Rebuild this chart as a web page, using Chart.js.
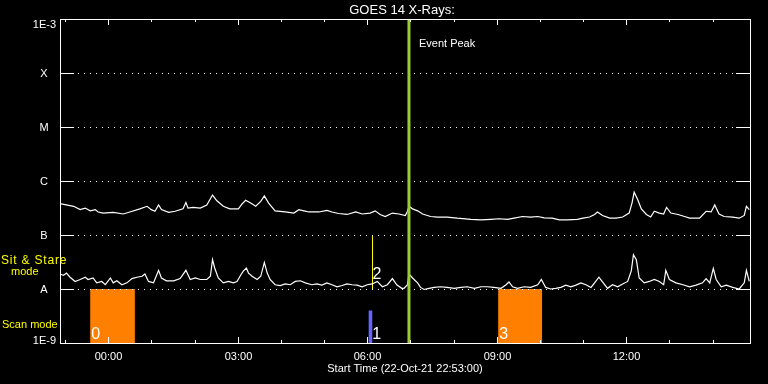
<!DOCTYPE html>
<html>
<head>
<meta charset="utf-8">
<script src="https://cdn.jsdelivr.net/npm/chart.js@4/dist/chart.umd.min.js"></script>
<style>
  html, body { margin: 0; padding: 0; background: #000; }
</style>
</head>
<body>
<canvas id="goes" width="768" height="384"></canvas>
<script>
// GOES 14 X-ray flux (W/m^2), time in minutes after the start time
const startLabel = '22-Oct-21 22:53:00';
const startMinuteOfDay = 22 * 60 + 53;
const spanMinutes = 959;

// long channel (1-8 A)
const longTime = [0, 19, 28, 35, 42, 49, 53, 60, 74, 88, 97, 111, 121, 127, 132, 137, 141, 151, 160, 171,
  175, 178, 185, 195, 204, 212, 218, 227, 236, 248, 253, 258, 265, 272, 279, 284, 290, 299, 313, 325,
  332, 339, 346, 360, 371, 378, 387, 399, 411, 420, 431, 438, 445, 452, 462, 471, 480, 483, 485, 490,
  497, 504, 515, 525, 538, 552, 571, 585, 599, 610, 622, 631, 643, 654, 664, 673, 684, 694, 705, 719,
  727, 736, 743, 747, 754, 764, 773, 782, 791, 795, 798, 803, 808, 815, 821, 826, 833, 839, 843, 849,
  859, 868, 875, 889, 898, 905, 910, 916, 923, 935, 944, 951, 954, 958];
const longFlux = [3.8e-7, 3.4e-7, 2.95e-7, 3.15e-7, 2.8e-7, 2.95e-7, 2.67e-7, 2.55e-7, 2.63e-7, 2.45e-7,
  2.67e-7, 3.05e-7, 3.4e-7, 2.95e-7, 2.75e-7, 3.6e-7, 2.95e-7, 2.63e-7, 2.75e-7, 3.05e-7,
  4.0e-7, 3.15e-7, 3.25e-7, 3.15e-7, 3.6e-7, 5.5e-7, 4.3e-7, 3.4e-7, 3.05e-7, 3.05e-7,
  3.75e-7, 4.4e-7, 3.9e-7, 3.4e-7, 4.2e-7, 5.3e-7, 3.9e-7, 2.8e-7, 2.67e-7, 2.55e-7,
  2.95e-7, 2.8e-7, 2.67e-7, 2.67e-7, 2.85e-7, 2.67e-7, 2.5e-7, 2.4e-7, 2.67e-7, 2.45e-7,
  2.55e-7, 2.8e-7, 2.4e-7, 2.2e-7, 2.55e-7, 2.45e-7, 2.3e-7, 2.75e-7, 3.4e-7, 3.05e-7,
  2.8e-7, 2.45e-7, 2.2e-7, 2.15e-7, 2.15e-7, 2.05e-7, 1.95e-7, 1.9e-7, 1.95e-7, 2.0e-7,
  1.95e-7, 2.05e-7, 2.2e-7, 2.15e-7, 2.2e-7, 2.07e-7, 2.05e-7, 1.9e-7, 1.9e-7, 1.95e-7,
  2.05e-7, 2.15e-7, 2.4e-7, 2.67e-7, 2.3e-7, 2.05e-7, 2.05e-7, 2.15e-7, 2.55e-7, 3.9e-7,
  6.2e-7, 4.5e-7, 3.05e-7, 2.4e-7, 2.15e-7, 2.75e-7, 2.55e-7, 2.45e-7, 3.25e-7, 2.55e-7,
  2.4e-7, 2.2e-7, 2.05e-7, 2.05e-7, 2.75e-7, 2.67e-7, 3.6e-7, 2.45e-7, 2.2e-7, 2.15e-7,
  2.05e-7, 2.3e-7, 3.4e-7, 2.95e-7];

// short channel (0.5-4 A)
const shortTime = [0, 5, 9, 14, 21, 28, 35, 39, 46, 51, 58, 63, 70, 74, 79, 86, 93, 100, 107, 114,
  118, 123, 130, 137, 141, 148, 158, 167, 175, 181, 188, 195, 204, 209, 212, 215, 220, 227, 234, 241,
  246, 251, 255, 259, 262, 267, 274, 279, 284, 288, 292, 299, 306, 313, 320, 327, 334, 341, 350, 357,
  364, 371, 378, 385, 392, 399, 406, 413, 420, 427, 434, 441, 448, 455, 462, 468, 475, 478, 483, 485,
  490, 497, 501, 506, 513, 520, 529, 538, 548, 557, 566, 576, 585, 594, 603, 613, 620, 624, 629, 636,
  645, 654, 664, 669, 675, 682, 689, 696, 703, 710, 717, 724, 731, 738, 743, 749, 754, 761, 768, 775,
  782, 789, 794, 797, 801, 805, 812, 819, 826, 833, 839, 842, 847, 856, 866, 875, 884, 893, 898, 903,
  908, 912, 919, 926, 935, 944, 951, 954, 958];
const shortFlux = [1.9e-8, 1.8e-8, 1.97e-8, 1.65e-8, 1.38e-8, 1.5e-8, 1.65e-8, 1.5e-8, 1.6e-8, 1.3e-8,
  1.38e-8, 1.2e-8, 1.6e-8, 1.3e-8, 1.42e-8, 1.2e-8, 1.3e-8, 1.56e-8, 1.65e-8, 1.72e-8,
  1.9e-8, 1.38e-8, 1.3e-8, 2.22e-8, 1.6e-8, 1.42e-8, 1.42e-8, 1.56e-8, 2.22e-8, 1.5e-8,
  1.6e-8, 1.5e-8, 1.5e-8, 1.72e-8, 3.5e-8, 2.45e-8, 1.6e-8, 1.3e-8, 1.38e-8, 1.3e-8,
  1.38e-8, 1.8e-8, 2.17e-8, 2.45e-8, 1.97e-8, 1.72e-8, 1.5e-8, 1.72e-8, 3.1e-8, 1.97e-8,
  1.5e-8, 1.2e-8, 1.16e-8, 1.24e-8, 1.2e-8, 1.38e-8, 1.42e-8, 1.3e-8, 1.2e-8, 1.24e-8,
  1.18e-8, 1.3e-8, 1.2e-8, 1.1e-8, 1.16e-8, 1.24e-8, 1.2e-8, 1.18e-8, 1.1e-8, 1.2e-8,
  1.24e-8, 1.38e-8, 1.1e-8, 1.2e-8, 1.56e-8, 1.2e-8, 1.03e-8, 1.03e-8, 1.2e-8, 1.9e-8,
  1.6e-8, 1.3e-8, 1.07e-8, 9.8e-9, 1.03e-8, 1.07e-8, 1.1e-8, 1.07e-8, 1.03e-8, 1.07e-8,
  1.1e-8, 1.03e-8, 1.1e-8, 1.1e-8, 1.07e-8, 1.03e-8, 1.2e-8, 1.35e-8, 1.1e-8, 1.03e-8,
  1.1e-8, 1.07e-8, 1.2e-8, 1.5e-8, 1.07e-8, 1.0e-8, 1.03e-8, 1.07e-8, 1.18e-8, 1.1e-8,
  1.18e-8, 1.3e-8, 1.2e-8, 1.07e-8, 1.3e-8, 1.65e-8, 1.35e-8, 1.03e-8, 1.2e-8, 1.1e-8,
  1.24e-8, 1.38e-8, 2.17e-8, 4.3e-8, 3.5e-8, 1.6e-8, 1.3e-8, 1.38e-8, 1.5e-8, 1.38e-8,
  1.2e-8, 2.22e-8, 1.5e-8, 1.3e-8, 1.2e-8, 1.1e-8, 1.18e-8, 1.3e-8, 1.56e-8, 1.3e-8,
  2.4e-8, 1.5e-8, 1.1e-8, 1.18e-8, 1.07e-8, 1.0e-8, 1.3e-8, 2.22e-8, 1.38e-8];

// y axis decades and their flare class names
const decadeValues = [1e-9, 1e-8, 1e-7, 1e-6, 1e-5, 1e-4, 1e-3];
const decadeLabels = ['1E-9', 'A', 'B', 'C', 'M', 'X', '1E-3'];

const eventPeakTime = 485;

// observation markers: scan blocks, sit & stare marks
const markerNames = ['0', '1', '2', '3'];
const markerKinds = ['scan', 'stare', 'line', 'scan'];
const markerStart = [42, 429, 433, 609];
const markerEnd = [104, 434, 433, 670];
const markerLow = [1e-9, 1e-9, 1e-8, 1e-9];
const markerHigh = [1e-8, 4e-9, 1e-7, 1e-8];

const FONT = '"Liberation Sans", Arial, sans-serif';

function pad2(n) { return (n < 10 ? '0' : '') + n; }

function toPoints(xs, ys) {
    return xs.map(function(x, i) { return { x: x, y: ys[i] }; });
}

// background, grid, markers (under the curves)
const underlay = {
    id: 'underlay',
    beforeDatasetsDraw: function(chart) {
        const ctx = chart.ctx;
        const area = chart.chartArea;
        const xs = chart.scales.x;
        const ys = chart.scales.y;
        ctx.save();

        // scan blocks and stare marks
        for (let i = 0; i < markerNames.length; i++) {
            const x0 = xs.getPixelForValue(markerStart[i]);
            const x1 = xs.getPixelForValue(markerEnd[i]);
            const yTop = ys.getPixelForValue(markerHigh[i]);
            const yBot = ys.getPixelForValue(markerLow[i]);
            if (markerKinds[i] === 'scan') {
                ctx.fillStyle = '#ff8000';
                ctx.fillRect(x0, yTop, x1 - x0, yBot - yTop);
            } else if (markerKinds[i] === 'stare') {
                ctx.fillStyle = '#6464ff';
                ctx.fillRect(x0, yTop, x1 - x0, yBot - yTop);
            } else {
                ctx.strokeStyle = '#ffff00';
                ctx.lineWidth = 1;
                ctx.beginPath();
                ctx.moveTo(Math.round(x0) + 0.5, yTop);
                ctx.lineTo(Math.round(x0) + 0.5, yBot);
                ctx.stroke();
            }
            ctx.fillStyle = '#fff';
            ctx.font = '16px ' + FONT;
            ctx.textAlign = 'left';
            ctx.textBaseline = 'alphabetic';
            const ly = markerKinds[i] === 'line' ? yBot - 10 : yBot - 4;
            const lx = markerKinds[i] === 'stare' ? x1 : x0 + 1;
            ctx.fillText(markerNames[i], lx, ly);
        }

        // decade lines: solid ends, dotted middle
        ctx.strokeStyle = '#fff';
        ctx.lineWidth = 1;
        for (let i = 1; i < decadeValues.length - 1; i++) {
            const y = Math.round(ys.getPixelForValue(decadeValues[i])) + 0.5;
            ctx.setLineDash([]);
            ctx.beginPath();
            ctx.moveTo(area.left, y); ctx.lineTo(area.left + 14, y);
            ctx.moveTo(area.right - 14, y); ctx.lineTo(area.right, y);
            ctx.stroke();
            ctx.setLineDash([1, 5]);
            ctx.beginPath();
            ctx.moveTo(area.left + 18, y); ctx.lineTo(area.right - 14, y);
            ctx.stroke();
        }
        ctx.restore();
    },
    afterDatasetsDraw: function(chart) {
        const ctx = chart.ctx;
        const area = chart.chartArea;
        const xs = chart.scales.x;
        const ys = chart.scales.y;
        ctx.save();

        // event peak line
        const ex = xs.getPixelForValue(eventPeakTime);
        ctx.strokeStyle = '#9acd32';
        ctx.lineWidth = 3;
        ctx.beginPath();
        ctx.moveTo(ex, area.top);
        ctx.lineTo(ex, area.bottom);
        ctx.stroke();
        ctx.fillStyle = '#fff';
        ctx.font = '11px ' + FONT;
        ctx.textAlign = 'left';
        ctx.fillText('Event Peak', ex + 10, area.top + 28);

        // frame
        ctx.strokeStyle = '#fff';
        ctx.lineWidth = 1;
        ctx.strokeRect(area.left + 0.5, area.top + 0.5, area.right - area.left, area.bottom - area.top);

        // time ticks, inward on bottom and top axes
        ctx.font = '11px ' + FONT;
        ctx.textAlign = 'center';
        ctx.textBaseline = 'alphabetic';
        for (let m = 60 - (startMinuteOfDay % 60); m <= spanMinutes; m += 60) {
            const x = Math.round(xs.getPixelForValue(m)) + 0.5;
            const hour = Math.floor((startMinuteOfDay + m) / 60) % 24;
            const major = hour % 3 === 0;
            const len = major ? 6 : 3;
            ctx.beginPath();
            ctx.moveTo(x, area.bottom); ctx.lineTo(x, area.bottom - len);
            ctx.moveTo(x, area.top); ctx.lineTo(x, area.top + len);
            ctx.stroke();
            if (major) {
                ctx.fillText(pad2(hour) + ':00', x, area.bottom + 17);
            }
        }
        ctx.fillText('Start Time (' + startLabel + ')', (area.left + area.right) / 2, area.bottom + 29);

        // title
        ctx.font = '13px ' + FONT;
        ctx.fillText('GOES 14 X-Rays:', (area.left + area.right) / 2 - 3, 14);

        // y labels
        ctx.font = '11px ' + FONT;
        for (let i = 0; i < decadeValues.length; i++) {
            const y = ys.getPixelForValue(decadeValues[i]);
            if (i === 0) {
                ctx.textAlign = 'right'; ctx.textBaseline = 'alphabetic';
                ctx.fillText(decadeLabels[i], area.left - 4, y + 1);
            } else if (i === decadeValues.length - 1) {
                ctx.textAlign = 'right'; ctx.textBaseline = 'top';
                ctx.fillText(decadeLabels[i], area.left - 4, y);
            } else {
                ctx.textAlign = 'center'; ctx.textBaseline = 'middle';
                ctx.fillText(decadeLabels[i], area.left - 16, y + 1);
            }
        }

        // mode labels
        const yA = ys.getPixelForValue(1e-8);
        ctx.fillStyle = '#ffff00';
        ctx.textAlign = 'left';
        ctx.textBaseline = 'alphabetic';
        ctx.font = '12px ' + FONT;
        ctx.letterSpacing = '0.8px';
        ctx.fillText('Sit & Stare', 1, yA - 25);
        ctx.letterSpacing = '0px';
        ctx.font = '11px ' + FONT;
        ctx.fillText('mode', 11, yA - 14);
        ctx.fillText('Scan mode', 2, area.bottom - 15);
        ctx.restore();
    }
};

const ctx = document.getElementById('goes').getContext('2d');
ctx.fillStyle = '#000';
ctx.fillRect(0, 0, 768, 384);

new Chart(ctx, {
    type: 'line',
    data: {
        datasets: [{
            label: 'long',
            data: toPoints(longTime, longFlux),
            borderColor: '#fff',
            borderWidth: 1.2,
            pointRadius: 0,
            tension: 0
        }, {
            label: 'short',
            data: toPoints(shortTime, shortFlux),
            borderColor: '#fff',
            borderWidth: 1.2,
            pointRadius: 0,
            tension: 0
        }]
    },
    options: {
        responsive: false,
        animation: false,
        devicePixelRatio: 1,
        layout: {
            padding: { left: 60, right: 18, top: 19, bottom: 41 }
        },
        plugins: {
            legend: { display: false },
            tooltip: { enabled: false },
            title: { display: false }
        },
        scales: {
            x: { type: 'linear', min: 0, max: spanMinutes, display: false },
            y: { type: 'logarithmic', min: 1e-9, max: 1e-3, display: false }
        }
    },
    plugins: [underlay]
});
</script>
</body>
</html>
